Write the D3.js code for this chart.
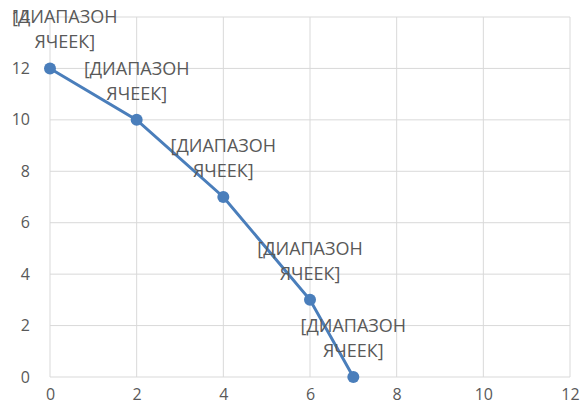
<!DOCTYPE html>
<html>
<head>
<meta charset="utf-8">
<script src="https://cdn.jsdelivr.net/npm/d3@7"></script>
<style>
  body { margin: 0; background: #fff; }
  text { font-family: 'Open Sans', sans-serif; }
</style>
</head>
<body>
<script>
// data
const xValues = [0, 2, 4, 6, 7]
const yValues = [12, 10, 7, 3, 0]
const labelLines = ['[ДИАПАЗОН', 'ЯЧЕЕК]']
const xTicks = [0, 2, 4, 6, 8, 10, 12]
const yTicks = [0, 2, 4, 6, 8, 10, 12, 14]

const width = 580
const height = 411

// plot area edges
const plotLeft = 50, plotRight = 570, plotTop = 17, plotBottom = 377

const x = d3.scaleLinear().domain([0, 12]).range([plotLeft, plotRight])
const y = d3.scaleLinear().domain([0, 14]).range([plotBottom, plotTop])

const svg = d3.select('body')
  .append('svg')
  .attr('width', width)
  .attr('height', height)

// gridlines
svg.append('g')
  .selectAll('line')
  .data(xTicks)
  .enter()
  .append('line')
  .attr('x1', d => x(d)).attr('x2', d => x(d))
  .attr('y1', plotTop).attr('y2', plotBottom)
  .attr('stroke', '#d9d9d9')
  .attr('stroke-width', 1)

svg.append('g')
  .selectAll('line')
  .data(yTicks)
  .enter()
  .append('line')
  .attr('x1', plotLeft).attr('x2', plotRight)
  .attr('y1', d => y(d)).attr('y2', d => y(d))
  .attr('stroke', '#d9d9d9')
  .attr('stroke-width', 1)

// tick labels
const xAxis = svg.append('g')
  .attr('transform', 'translate(0,' + plotBottom + ')')
  .call(d3.axisBottom(x).tickValues(xTicks).tickSize(0).tickPadding(12))
xAxis.select('.domain').remove()
xAxis.selectAll('text')
  .attr('font-size', 16)
  .attr('font-family', "'Open Sans', sans-serif")
  .attr('fill', '#595959')

const yAxis = svg.append('g')
  .attr('transform', 'translate(' + plotLeft + ',0)')
  .call(d3.axisLeft(y).tickValues(yTicks).tickSize(0).tickPadding(20))
yAxis.select('.domain').remove()
yAxis.selectAll('text')
  .attr('font-size', 16)
  .attr('font-family', "'Open Sans', sans-serif")
  .attr('fill', '#595959')

const points = xValues.map((v, i) => ({ x: v, y: yValues[i] }))

// straight segments between points
const line = d3.line()
  .x(d => x(d.x))
  .y(d => y(d.y))

svg.append('path')
  .datum(points)
  .attr('d', line)
  .attr('fill', 'none')
  .attr('stroke', '#4a7ebb')
  .attr('stroke-width', 3)

svg.append('g')
  .selectAll('circle')
  .data(points)
  .enter()
  .append('circle')
  .attr('cx', d => x(d.x))
  .attr('cy', d => y(d.y))
  .attr('r', 6)
  .attr('fill', '#4a7ebb')

// data labels, centered above each point, kept inside the picture
const labels = svg.append('g')
  .selectAll('text')
  .data(points)
  .enter()
  .append('text')
  .attr('font-size', 18)
  .attr('fill', '#595959')
  .attr('text-anchor', 'middle')

labels.each(function (d) {
  const t = d3.select(this)
  labelLines.forEach((s, i) => {
    t.append('tspan')
      .attr('x', 0)
      .attr('y', i * 25)
      .text(s)
  })
  const w = this.getBBox().width
  let cx = x(d.x)
  if (cx - w / 2 < 12) cx = 12 + w / 2
  t.attr('transform', 'translate(' + cx + ',' + (y(d.y) - 45) + ')')
})
</script>
</body>
</html>
